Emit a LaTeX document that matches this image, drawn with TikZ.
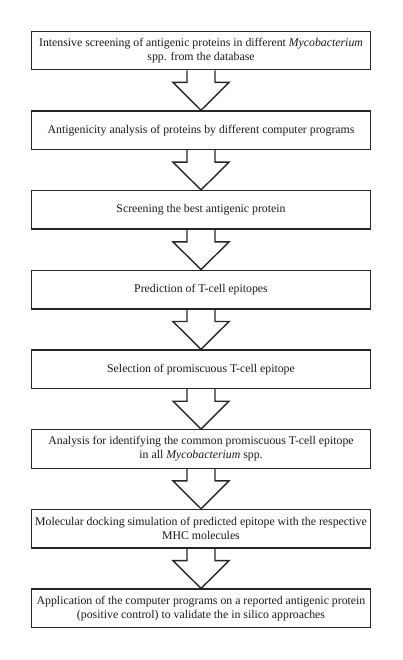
\documentclass[tikz,border=0pt]{standalone}
\usepackage{fontspec}
\setmainfont{Liberation Serif}
\usetikzlibrary{positioning, calc}

\tikzset{
    passo/.style={draw=black!85, line width=1.4pt, fill=white, minimum width=339pt, minimum height=38.5pt, align=center, inner sep=2pt, text=black!90, font=\fontsize{11.8}{14}\selectfont},
    freccia/.style={draw=black!85, line width=1.4pt, line join=miter}
}

\begin{document}
\begin{tikzpicture}[x=1pt, y=1pt, node distance=39.8pt]
    \useasboundingbox (0,0) rectangle (402,660);

    % Riquadri del diagramma
    \node[passo] (A) at (201,609.5) {Intensive screening of antigenic proteins in different \textit{Mycobacterium}\\ spp. from the database};
    \node[passo, below=of A] (B) {Antigenicity analysis of proteins by different computer programs};
    \node[passo, below=of B] (C) {Screening the best antigenic protein};
    \node[passo, below=of C] (D) {Prediction of T-cell epitopes};
    \node[passo, below=of D] (E) {Selection of promiscuous T-cell epitope};
    \node[passo, below=of E] (F) {Analysis for identifying the common promiscuous T-cell epitope\\ in all \textit{Mycobacterium} spp.};
    \node[passo, below=of F] (G) {Molecular docking simulation of predicted epitope with the respective\\ MHC molecules};
    \node[passo, below=of G] (H) {Application of the computer programs on a reported antigenic protein\\ (positive control) to validate the in silico approaches};

    % Frecce a blocco tra i riquadri
    \draw[freccia] ($(A.south)+(-14,0)$) -- ++(0,-12) -- ++(-14,0) -- (B.north) -- ($(A.south)+(28,-12)$) -- ++(-14,0) -- ++(0,12);
    \draw[freccia] ($(B.south)+(-14,0)$) -- ++(0,-12) -- ++(-14,0) -- (C.north) -- ($(B.south)+(28,-12)$) -- ++(-14,0) -- ++(0,12);
    \draw[freccia] ($(C.south)+(-14,0)$) -- ++(0,-12) -- ++(-14,0) -- (D.north) -- ($(C.south)+(28,-12)$) -- ++(-14,0) -- ++(0,12);
    \draw[freccia] ($(D.south)+(-14,0)$) -- ++(0,-12) -- ++(-14,0) -- (E.north) -- ($(D.south)+(28,-12)$) -- ++(-14,0) -- ++(0,12);
    \draw[freccia] ($(E.south)+(-14,0)$) -- ++(0,-12) -- ++(-14,0) -- (F.north) -- ($(E.south)+(28,-12)$) -- ++(-14,0) -- ++(0,12);
    \draw[freccia] ($(F.south)+(-14,0)$) -- ++(0,-12) -- ++(-14,0) -- (G.north) -- ($(F.south)+(28,-12)$) -- ++(-14,0) -- ++(0,12);
    \draw[freccia] ($(G.south)+(-14,0)$) -- ++(0,-12) -- ++(-14,0) -- (H.north) -- ($(G.south)+(28,-12)$) -- ++(-14,0) -- ++(0,12);
\end{tikzpicture}
\end{document}
